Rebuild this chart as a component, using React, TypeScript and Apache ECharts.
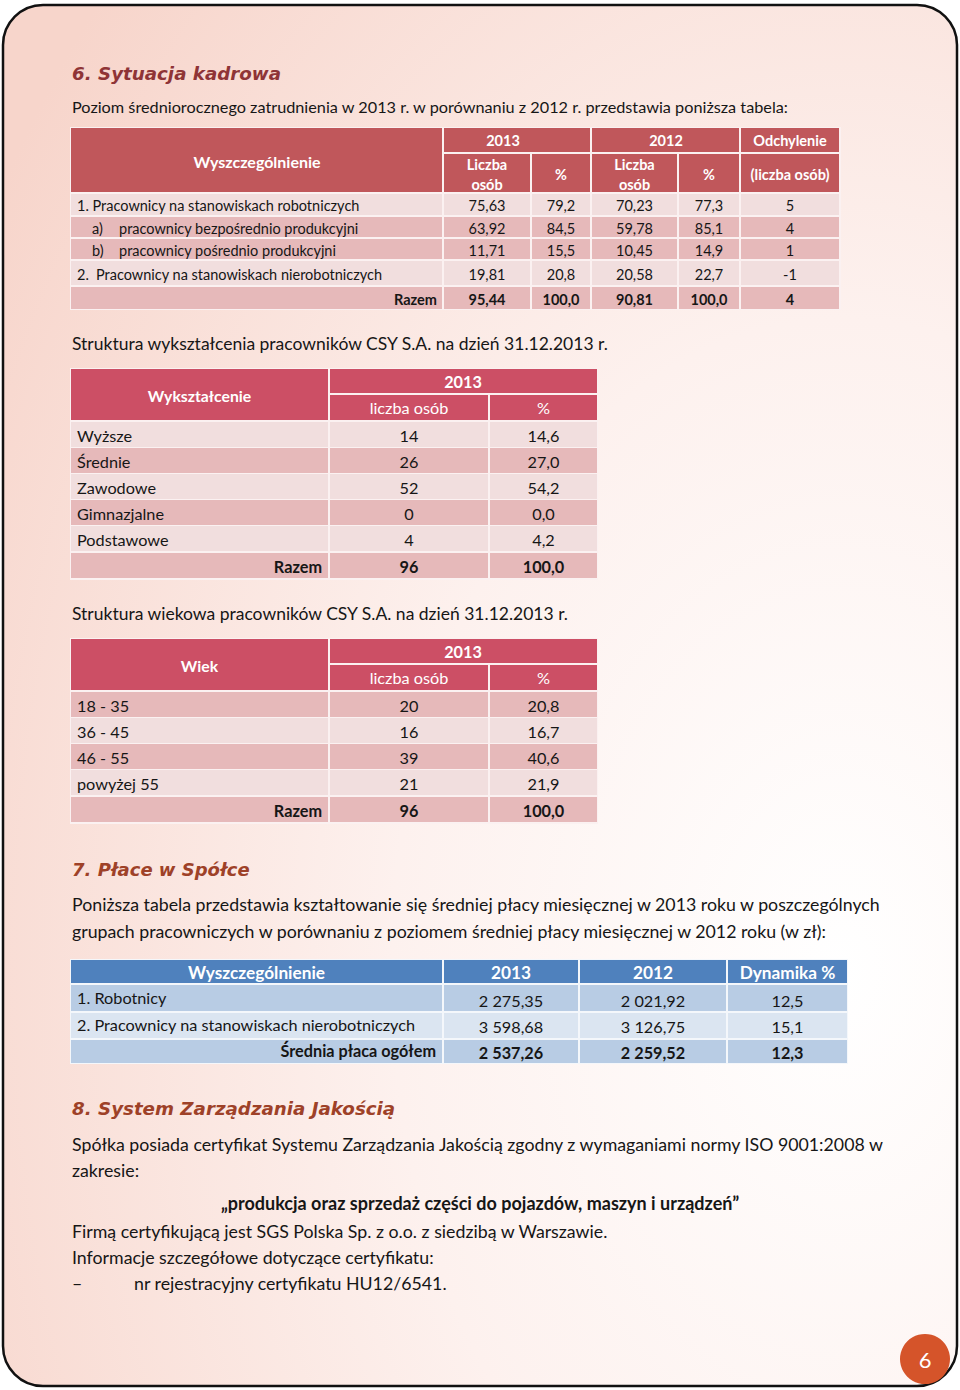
import React, { useEffect, useRef } from "react";
import * as echarts from "echarts";

// ---------- DATA ----------
const heading6 = "6. Sytuacja kadrowa";
const intro6 = "Poziom średniorocznego zatrudnienia w 2013 r. w porównaniu z 2012 r. przedstawia poniższa tabela:";

const t1Labels = [
  ["1. Pracownicy na stanowiskach robotniczych", ""],
  ["a)", "pracownicy bezpośrednio produkcyjni"],
  ["b)", "pracownicy pośrednio produkcyjni"],
  ["2.", "Pracownicy na stanowiskach nierobotniczych"],
];
const t1Count2013 = [75.63, 63.92, 11.71, 19.81];
const t1Pct2013 = [79.2, 84.5, 15.5, 20.8];
const t1Count2012 = [70.23, 59.78, 10.45, 20.58];
const t1Pct2012 = [77.3, 85.1, 14.9, 22.7];
const t1Diff = [5, 4, 1, -1];
const t1Total = { c2013: 95.44, p2013: 100.0, c2012: 90.81, p2012: 100.0, diff: 4 };

const eduTitle = "Struktura wykształcenia pracowników CSY S.A. na dzień 31.12.2013 r.";
const eduLabels = ["Wyższe", "Średnie", "Zawodowe", "Gimnazjalne", "Podstawowe"];
const eduCount = [14, 26, 52, 0, 4];
const eduPct = [14.6, 27.0, 54.2, 0.0, 4.2];
const eduTotal = { count: 96, pct: 100.0 };

const ageTitle = "Struktura wiekowa pracowników CSY S.A. na dzień 31.12.2013 r.";
const ageLabels = ["18 - 35", "36 - 45", "46 - 55", "powyżej 55"];
const ageCount = [20, 16, 39, 21];
const agePct = [20.8, 16.7, 40.6, 21.9];
const ageTotal = { count: 96, pct: 100.0 };

const heading7 = "7. Płace w Spółce";
const para7 = [
  "Poniższa tabela przedstawia kształtowanie się średniej płacy miesięcznej w 2013 roku w poszczególnych",
  "grupach pracowniczych w porównaniu z poziomem średniej płacy miesięcznej w 2012 roku (w zł):",
];
const payLabels = ["1. Robotnicy", "2. Pracownicy na stanowiskach nierobotniczych"];
const pay2013 = [2275.35, 3598.68];
const pay2012 = [2021.92, 3126.75];
const payDyn = [12.5, 15.1];
const payTotal = { label: "Średnia płaca ogółem", v2013: 2537.26, v2012: 2259.52, dyn: 12.3 };

const heading8 = "8. System Zarządzania Jakością";
const para8 = [
  "Spółka posiada certyfikat Systemu Zarządzania Jakością zgodny z wymaganiami normy ISO 9001:2008 w",
  "zakresie:",
];
const quote8 = "„produkcja oraz sprzedaż części do pojazdów, maszyn i urządzeń”";
const para8b = [
  "Firmą certyfikującą jest SGS Polska Sp. z o.o. z siedzibą w Warszawie.",
  "Informacje szczegółowe dotyczące certyfikatu:",
];
const bulletText = "nr rejestracyjny certyfikatu HU12/6541.";
const pageNumber = "6";

// ---------- HELPERS ----------
const BODY = "Lato, 'Open Sans', sans-serif";
const HEAD = "'DejaVu Sans', sans-serif";

let measureCtx: CanvasRenderingContext2D | null = null;
function fit(text: string, family: string, weight: string, style: string, target: number) {
  if (!measureCtx) measureCtx = document.createElement("canvas").getContext("2d");
  measureCtx!.font = `${style} ${weight} 100px ${family}`;
  const w = measureCtx!.measureText(text).width;
  return Math.round((100 * target) / w * 4) / 4;
}
const f1 = (v: number) => v.toFixed(1).replace(".", ",");
const f2 = (v: number) => v.toFixed(2).replace(".", ",");
const fPay = (v: number) => {
  const [i, d] = v.toFixed(2).split(".");
  return i.replace(/\B(?=(\d{3})+(?!\d))/g, " ") + "," + d;
};

export default function App() {
  const ref = useRef<HTMLDivElement>(null);
  useEffect(() => {
    const chart = echarts.init(ref.current!, null, { renderer: "svg", width: 960, height: 1390 });
    const els: any[] = [];
    const rect = (x: number, y: number, w: number, h: number, fill: string) =>
      els.push({ type: "rect", silent: true, shape: { x, y, width: w, height: h }, style: { fill } });
    const txt = (text: string, x: number, y: number, o: any) =>
      els.push({
        type: "text",
        silent: true,
        x,
        y,
        style: {
          text,
          fontSize: o.size,
          fontFamily: o.family || BODY,
          fontWeight: o.weight || "normal",
          fontStyle: o.style || "normal",
          fill: o.fill || "#161616",
          align: o.align || "left",
          textAlign: o.align || "left",
          verticalAlign: "middle",
          textVerticalAlign: "middle",
        },
      });

    // font sizes fitted to the reference widths
    const sH6 = fit(heading6, HEAD, "bold", "italic", 210);
    const sH7 = fit(heading7, HEAD, "bold", "italic", 178);
    const sH8 = fit(heading8, HEAD, "bold", "italic", 322);
    const sIntro = fit(intro6, BODY, "normal", "normal", 715);
    const sStruct = fit(eduTitle, BODY, "normal", "normal", 539);
    const sPara = fit(para7[1], BODY, "normal", "normal", 758);
    const sPara8 = fit(para8b[0], BODY, "normal", "normal", 534);
    const sT1 = fit(t1Labels[0][0], BODY, "normal", "normal", 283);
    const sT1h = fit("Wyszczególnienie", BODY, "bold", "normal", 127);
    const sT2 = fit("Gimnazjalne", BODY, "normal", "normal", 87);
    const sT2h = fit("Wykształcenie", BODY, "bold", "normal", 103);
    const sT4 = fit(payLabels[1], BODY, "normal", "normal", 336);
    const sQuote = fit(quote8, BODY, "bold", "normal", 520);

    // page background
    els.push({
      type: "rect",
      silent: true,
      shape: { x: 3, y: 5, width: 954, height: 1381, r: 40 },
      style: {
        fill: {
          type: "radial",
          x: 0.88,
          y: 0.7,
          r: 1.05,
          colorStops: [
            { offset: 0, color: "#ffffff" },
            { offset: 0.45, color: "#fdf1ee" },
            { offset: 1, color: "#f7d5cb" },
          ],
        },
        stroke: "#111",
        lineWidth: 2.5,
      },
    });

    // ---------- Section 6 ----------
    const HCOL6 = "#8f3436";
    const HCOL = "#9e4128";
    txt(heading6, 72, 73, { size: sH6, family: HEAD, weight: "bold", style: "italic", fill: HCOL6 });
    txt(intro6, 72, 106, { size: sIntro });

    // Table 1
    const T1H = "#c0575b";
    const LIGHT = "#f1dede";
    const DARK = "#e6b9ba";
    els.push({ type: "rect", silent: true, shape: { x: 70, y: 127, width: 771, height: 183 }, style: { fill: "#fbf1f1" } });
    const c1 = [
      [71, 442],
      [444, 530],
      [532, 590],
      [592, 677],
      [679, 739],
      [741, 839],
    ];
    rect(71, 128, 371, 64, T1H);
    rect(444, 128, 146, 24, T1H);
    rect(592, 128, 147, 24, T1H);
    rect(741, 128, 98, 24, T1H);
    for (let i = 1; i < 6; i++) rect(c1[i][0], 154, c1[i][1] - c1[i][0], 38, T1H);
    const W = "#ffffff";
    txt("Wyszczególnienie", 257, 161, { size: sT1h, weight: "bold", fill: W, align: "center" });
    txt("2013", 503, 140, { size: sT1, weight: "bold", fill: W, align: "center" });
    txt("2012", 666, 140, { size: sT1, weight: "bold", fill: W, align: "center" });
    txt("Odchylenie", 790, 140, { size: sT1, weight: "bold", fill: W, align: "center" });
    const cx1 = c1.map((c) => (c[0] + c[1]) / 2);
    [1, 3].forEach((k) => {
      txt("Liczba", cx1[k], 164, { size: sT1, weight: "bold", fill: W, align: "center" });
      txt("osób", cx1[k], 184, { size: sT1, weight: "bold", fill: W, align: "center" });
    });
    [2, 4].forEach((k) => txt("%", cx1[k], 174, { size: sT1, weight: "bold", fill: W, align: "center" }));
    txt("(liczba osób)", cx1[5], 174, { size: sT1, weight: "bold", fill: W, align: "center" });

    const r1Top = [194, 217, 239, 261, 287];
    const r1H = [21, 20, 20, 24, 22];
    const r1Fill = [LIGHT, DARK, DARK, LIGHT, DARK];
    for (let r = 0; r < 5; r++) {
      for (let i = 0; i < 6; i++) rect(c1[i][0], r1Top[r], c1[i][1] - c1[i][0], r1H[r], r1Fill[r]);
    }
    for (let r = 0; r < 4; r++) {
      const cy = r1Top[r] + r1H[r] / 2 + 1;
      const [a, b] = t1Labels[r];
      if (r === 0) txt(a, 77, cy, { size: sT1 });
      else if (r === 3) {
        txt(a, 77, cy, { size: sT1 });
        txt(b, 96, cy, { size: sT1 });
      } else {
        txt(a, 92, cy, { size: sT1 });
        txt(b, 119, cy, { size: sT1 });
      }
      txt(f2(t1Count2013[r]), cx1[1], cy, { size: sT1, align: "center" });
      txt(f1(t1Pct2013[r]), cx1[2], cy, { size: sT1, align: "center" });
      txt(f2(t1Count2012[r]), cx1[3], cy, { size: sT1, align: "center" });
      txt(f1(t1Pct2012[r]), cx1[4], cy, { size: sT1, align: "center" });
      txt(String(t1Diff[r]), cx1[5], cy, { size: sT1, align: "center" });
    }
    {
      const cy = 299;
      const o = { size: sT1, weight: "bold", align: "center" };
      txt("Razem", 437, cy, { size: sT1, weight: "bold", align: "right" });
      txt(f2(t1Total.c2013), cx1[1], cy, o);
      txt(f1(t1Total.p2013), cx1[2], cy, o);
      txt(f2(t1Total.c2012), cx1[3], cy, o);
      txt(f1(t1Total.p2012), cx1[4], cy, o);
      txt(String(t1Total.diff), cx1[5], cy, o);
    }

    // ---------- Tables 2 & 3 ----------
    const T2H = "#cc4f65";
    const c2 = [
      [71, 328],
      [330, 488],
      [490, 597],
    ];
    const cx2 = c2.map((c) => (c[0] + c[1]) / 2);
    const smallTable = (
      title: string,
      titleY: number,
      top: number,
      headLabel: string,
      labels: string[],
      counts: number[],
      pcts: number[],
      total: { count: number; pct: number },
      fills: string[]
    ) => {
      txt(title, 72, titleY, { size: sStruct });
      const n = labels.length;
      els.push({
        type: "rect",
        silent: true,
        shape: { x: 70, y: top - 1, width: 528, height: 53 + (n + 1) * 26 + 3 },
        style: { fill: "#fbf1f1" },
      });
      rect(71, top, 257, 51, T2H);
      rect(330, top, 267, 24, T2H);
      rect(330, top + 26, 158, 25, T2H);
      rect(490, top + 26, 107, 25, T2H);
      txt(headLabel, cx2[0], top + 26, { size: sT2h, weight: "bold", fill: W, align: "center" });
      txt("2013", 463, top + 12, { size: sT2, weight: "bold", fill: W, align: "center" });
      txt("liczba osób", cx2[1], top + 38, { size: sT2, fill: W, align: "center" });
      txt("%", cx2[2], top + 38, { size: sT2, fill: W, align: "center" });
      for (let r = 0; r <= n; r++) {
        const y = top + 53 + r * 26 + (r === n ? 1 : 0);
        for (let i = 0; i < 3; i++) rect(c2[i][0], y, c2[i][1] - c2[i][0], 25, fills[r]);
        const cy = y + 13;
        if (r < n) {
          txt(labels[r], 77, cy, { size: sT2 });
          txt(String(counts[r]), cx2[1], cy, { size: sT2, align: "center" });
          txt(f1(pcts[r]), cx2[2], cy, { size: sT2, align: "center" });
        } else {
          txt("Razem", 322, cy, { size: sT2, weight: "bold", align: "right" });
          txt(String(total.count), cx2[1], cy, { size: sT2, weight: "bold", align: "center" });
          txt(f1(total.pct), cx2[2], cy, { size: sT2, weight: "bold", align: "center" });
        }
      }
    };
    smallTable(eduTitle, 343, 369, "Wykształcenie", eduLabels, eduCount, eduPct, eduTotal, [
      LIGHT, DARK, LIGHT, DARK, LIGHT, DARK,
    ]);
    smallTable(ageTitle, 613, 639, "Wiek", ageLabels, ageCount, agePct, ageTotal, [DARK, LIGHT, DARK, LIGHT, DARK]);

    // ---------- Section 7 ----------
    txt(heading7, 72, 869, { size: sH7, family: HEAD, weight: "bold", style: "italic", fill: HCOL });
    txt(para7[0], 72, 904, { size: sPara });
    txt(para7[1], 72, 931, { size: sPara });

    const c4 = [
      [71, 442],
      [444, 578],
      [580, 726],
      [728, 847],
    ];
    const cx4 = c4.map((c) => (c[0] + c[1]) / 2);
    els.push({ type: "rect", silent: true, shape: { x: 70, y: 959, width: 778, height: 105 }, style: { fill: "#f4f7fb" } });
    const BH = "#4f81bd";
    const B1 = "#b8cce4";
    const B2 = "#dbe5f1";
    for (let i = 0; i < 4; i++) {
      rect(c4[i][0], 960, c4[i][1] - c4[i][0], 23, BH);
      rect(c4[i][0], 985, c4[i][1] - c4[i][0], 26, B1);
      rect(c4[i][0], 1013, c4[i][1] - c4[i][0], 25, B2);
      rect(c4[i][0], 1040, c4[i][1] - c4[i][0], 23, B1);
    }
    const hb = { size: sT4 * 1.06, weight: "bold", fill: W, align: "center" };
    txt("Wyszczególnienie", cx4[0], 972, hb);
    txt("2013", cx4[1], 972, hb);
    txt("2012", cx4[2], 972, hb);
    txt("Dynamika %", cx4[3], 972, hb);
    const rowY4 = [[997, 1000], [1024, 1026]];
    for (let r = 0; r < 2; r++) {
      txt(payLabels[r], 77, rowY4[r][0], { size: sT4 });
      txt(fPay(pay2013[r]), cx4[1], rowY4[r][1], { size: sT4, align: "center" });
      txt(fPay(pay2012[r]), cx4[2], rowY4[r][1], { size: sT4, align: "center" });
      txt(f1(payDyn[r]), cx4[3], rowY4[r][1], { size: sT4, align: "center" });
    }
    txt(payTotal.label, 436, 1050, { size: sT4, weight: "bold", align: "right" });
    txt(fPay(payTotal.v2013), cx4[1], 1052, { size: sT4, weight: "bold", align: "center" });
    txt(fPay(payTotal.v2012), cx4[2], 1052, { size: sT4, weight: "bold", align: "center" });
    txt(f1(payTotal.dyn), cx4[3], 1052, { size: sT4, weight: "bold", align: "center" });

    // ---------- Section 8 ----------
    txt(heading8, 72, 1108, { size: sH8, family: HEAD, weight: "bold", style: "italic", fill: HCOL });
    txt(para8[0], 72, 1144, { size: sPara });
    txt(para8[1], 72, 1170, { size: sPara });
    txt(quote8, 480, 1203, { size: sQuote, weight: "bold", align: "center" });
    txt(para8b[0], 72, 1231, { size: sPara8 });
    txt(para8b[1], 72, 1257, { size: sPara8 });
    txt("–", 72, 1283, { size: sPara8 });
    txt(bulletText, 134, 1283, { size: sPara8 });

    // page number
    els.push({ type: "circle", silent: true, shape: { cx: 925, cy: 1359, r: 25 }, style: { fill: "#d5542a" } });
    txt(pageNumber, 925, 1359, { size: 22, fill: W, align: "center" });

    chart.setOption({ animation: false, graphic: { elements: els } });
    return () => chart.dispose();
  }, []);
  return <div ref={ref} style={{ position: "absolute", left: 0, top: 0, width: 960, height: 1390 }} />;
}
